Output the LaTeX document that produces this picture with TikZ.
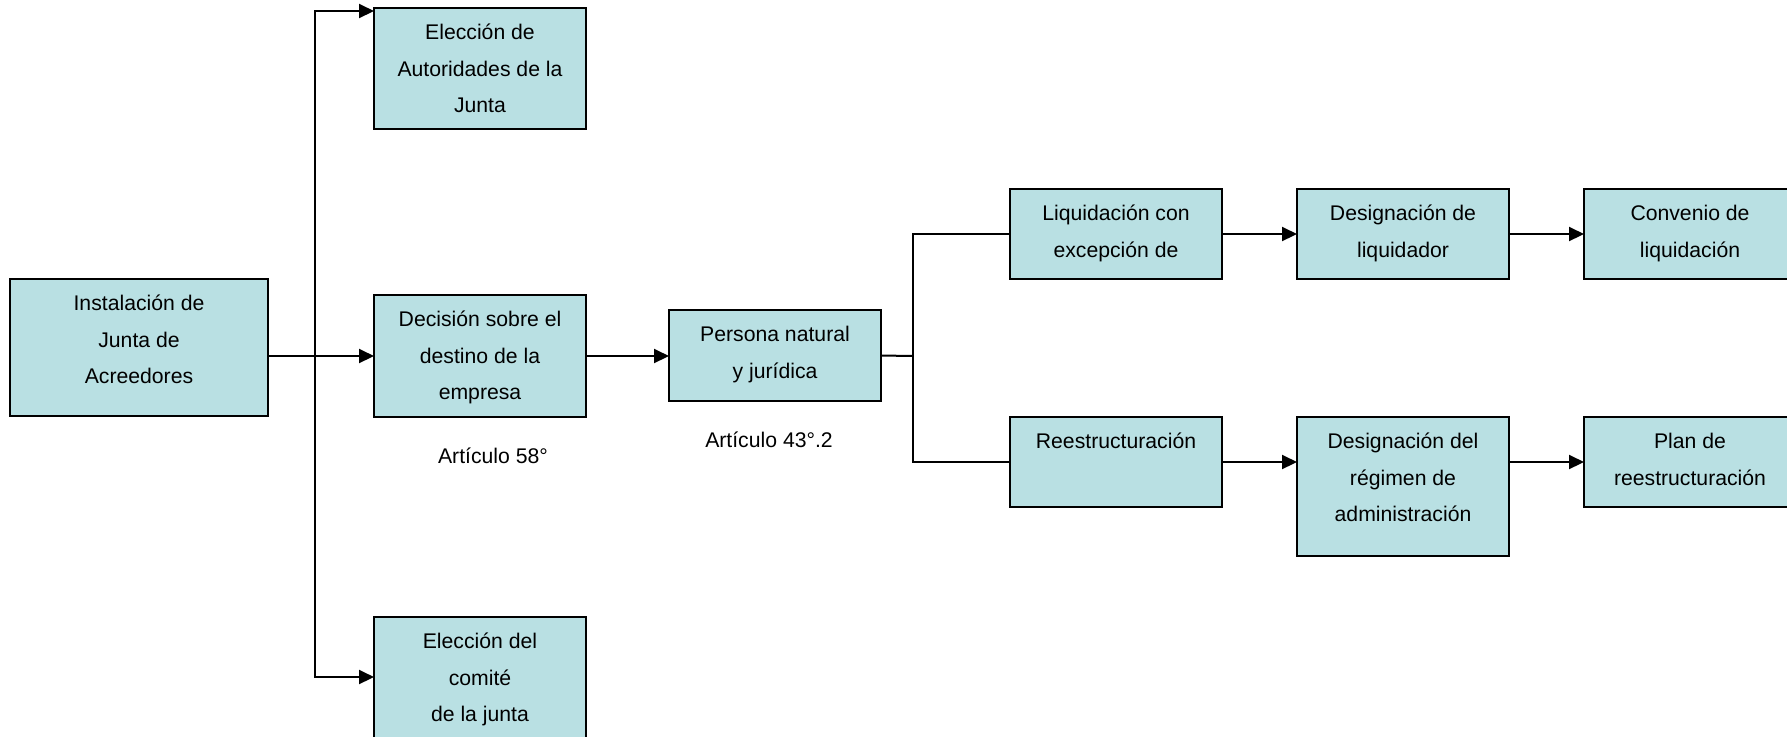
\documentclass[tikz,border=0pt]{standalone}
\usepackage{fontspec}
\setmainfont{Liberation Sans}
\usetikzlibrary{arrows.meta}
\definecolor{boxfill}{RGB}{185,224,227}
\begin{document}
\begin{tikzpicture}[x=0.5pt,y=-0.5pt,
  box/.style={draw=black,line width=1pt,fill=boxfill,rectangle,inner sep=0pt,outer sep=0pt,anchor=north west,minimum width=106pt},
  txt/.style={font=\fontsize{10.6}{18.25}\selectfont,align=center,inner sep=0pt},
  intext/.style={label={[txt,anchor=north,yshift=-3pt]north:{\strut #1}}},
  arr/.style={line width=1pt,-{Triangle[length=7.5pt,width=7pt]}},
  ln/.style={line width=1pt},
]
\useasboundingbox (0,0) rectangle (1787,736);
% boxes
\node[box,minimum width=129pt,minimum height=68.5pt,intext={Instalación de\\Junta de\\Acreedores}] (inst) at (10,279) {};
\node[box,minimum height=60.5pt,intext={Elección de\\Autoridades de la\\Junta}] (aut) at (374,8) {};
\node[box,minimum height=61pt,intext={Decisión sobre el\\destino de la\\empresa}] (dec) at (374,295) {};
\node[box,minimum height=70pt,intext={Elección del\\comité\\de la junta}] (com) at (374,617) {};
\node[box,minimum height=45.5pt,intext={Persona natural\\y jurídica}] (per) at (669,310) {};
\node[box,minimum height=45pt,intext={Liquidación con\\excepción de}] (liq) at (1010,189) {};
\node[box,minimum height=45pt,intext={Reestructuración}] (res) at (1010,417) {};
\node[box,minimum height=45pt,intext={Designación de\\liquidador}] (dliq) at (1297,189) {};
\node[box,minimum height=45pt,intext={Convenio de\\liquidación}] (conv) at (1584,189) {};
\node[box,minimum height=69.5pt,intext={Designación del\\régimen de\\administración}] (dreg) at (1297,417) {};
\node[box,minimum height=45pt,intext={Plan de\\reestructuración}] (plan) at (1584,417) {};
% free texts
\node[txt,anchor=base] (a58) at (493,463) {Artículo 58°};
\node[txt,anchor=base] (a43) at (769,447) {Artículo 43°.2};
% connectors
\coordinate (t) at (315,356);
\coordinate (j) at (913,356);
\draw[arr] (inst.east |- dec.west) -- (dec.west);
\draw[arr] (t) |- ([yshift=-1.5pt]aut.north west);
\draw[arr] (t) |- ([yshift=-30pt]com.north west);
\draw[arr] (dec.east) -- (per.west |- dec.east);
\draw[ln] (per.east) -- (j);
\draw[ln] (j) |- (liq.west);
\draw[ln] (j) |- (res.west);
\draw[arr] (liq.east) -- (dliq.west);
\draw[arr] (dliq.east) -- (conv.west);
\draw[arr] (res.east) -- (dreg.west |- res.east);
\draw[arr] (dreg.east |- plan.west) -- (plan.west);
\end{tikzpicture}
\end{document}
